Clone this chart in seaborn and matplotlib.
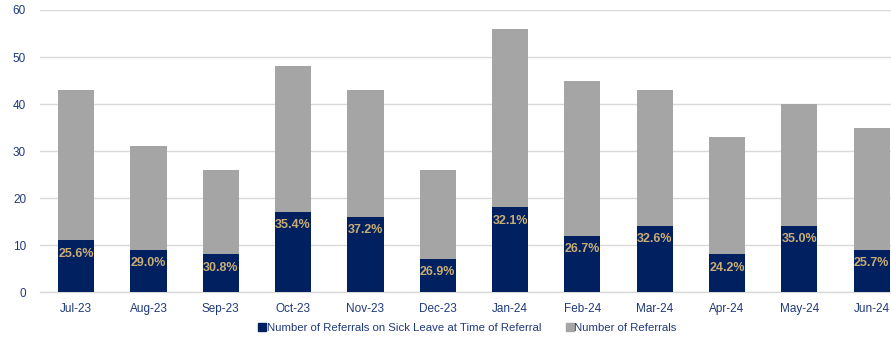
import matplotlib
matplotlib.use("Agg")
import matplotlib.pyplot as plt
from matplotlib.lines import Line2D
import seaborn as sns
import pandas as pd
import numpy as np

months = ["Jul-23", "Aug-23", "Sep-23", "Oct-23", "Nov-23", "Dec-23",
          "Jan-24", "Feb-24", "Mar-24", "Apr-24", "May-24", "Jun-24"]
total_referrals = [43, 31, 26, 48, 43, 26, 56, 45, 43, 33, 40, 35]
sick_leave = [11, 9, 8, 17, 16, 7, 18, 12, 14, 8, 14, 9]
pct_labels = ["25.6%", "29.0%", "30.8%", "35.4%", "37.2%", "26.9%",
              "32.1%", "26.7%", "32.6%", "24.2%", "35.0%", "25.7%"]

NAVY = "#002060"
GREY = "#A5A5A5"
GOLD = "#C9AC74"
TEXT = "#1F3A7A"

df = pd.DataFrame({"month": months, "total": total_referrals, "sick": sick_leave})

sns.set_style("white")
plt.rcParams["font.family"] = ["Liberation Sans", "DejaVu Sans"]

fig = plt.figure(figsize=(8.91, 3.40), dpi=100)
ax = fig.add_axes([0.0449, 0.141, 0.974, 0.8296])

sns.barplot(data=df, x="month", y="total", color=GREY, width=0.5,
            saturation=1, linewidth=0, ax=ax, zorder=2)
sns.barplot(data=df, x="month", y="sick", color=NAVY, width=0.5,
            saturation=1, linewidth=0, ax=ax, zorder=3)

for i, (v, lab) in enumerate(zip(sick_leave, pct_labels)):
    ax.text(i, v - 2.8, lab, ha="center", va="center", color=GOLD,
            fontsize=9, fontweight="bold", zorder=4)

ax.set_xlim(-0.5, 11.5)
ax.set_ylim(0, 60)
ax.set_yticks(np.arange(0, 61, 10))
ax.yaxis.grid(True, color="#D9D9D9", linewidth=1)
ax.set_axisbelow(True)
ax.set_xlabel("")
ax.set_ylabel("")

for s in ["top", "right", "left"]:
    ax.spines[s].set_visible(False)
ax.spines["bottom"].set_color("#D9D9D9")
ax.spines["bottom"].set_linewidth(1)

ax.set_xticks(np.arange(len(months)))
ax.set_xticklabels(months)
ax.set_xticks(np.arange(-0.5, len(months), 1), minor=True)
ax.tick_params(axis="x", which="major", length=0, pad=8, labelsize=8.5,
               labelcolor=TEXT)
ax.tick_params(axis="x", which="minor", length=5, color="#D9D9D9", width=1)
ax.tick_params(axis="y", length=0, pad=10, labelsize=8.5, labelcolor=TEXT)

handles = [
    Line2D([], [], marker="s", linestyle="", color=NAVY, markersize=5.5,
           label="Number of Referrals on Sick Leave at Time of Referral"),
    Line2D([], [], marker="s", linestyle="", color=GREY, markersize=5.5,
           label="Number of Referrals"),
]
leg = fig.legend(handles=handles, loc="center", bbox_to_anchor=(0.525, 0.035),
                 ncol=2, frameon=False, fontsize=8.2, handlelength=0.6,
                 handletextpad=0.1, columnspacing=2.2)
for t in leg.get_texts():
    t.set_color(TEXT)

fig.savefig("out.png", dpi=100)
